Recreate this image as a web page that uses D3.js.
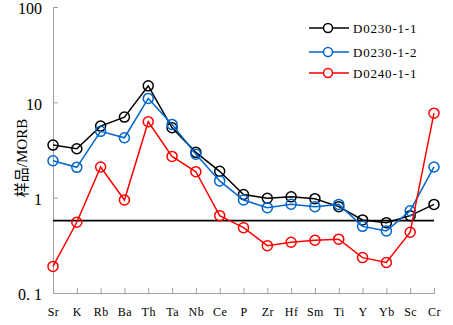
<!DOCTYPE html>
<html>
<head>
<meta charset="utf-8">
<script src="https://cdn.jsdelivr.net/npm/d3@7"></script>
<style>
  body { margin: 0; background: #fff; }
  svg text { font-family: "Liberation Serif", "DejaVu Serif", "Noto Sans CJK SC", serif; }
</style>
</head>
<body>
<svg id="chart" width="453" height="325"></svg>
<script>
// element order along the x axis
const elements = ["Sr", "K", "Rb", "Ba", "Th", "Ta", "Nb", "Ce", "P", "Zr", "Hf", "Sm", "Ti", "Y", "Yb", "Sc", "Cr"];

// sample / MORB values
const d0230_1_1 = [3.56, 3.26, 5.63, 7.0, 14.9, 5.41, 2.99, 1.89, 1.08, 0.985, 1.02, 0.976, 0.805, 0.584, 0.547, 0.648, 0.85];
const d0230_1_2 = [2.44, 2.08, 4.96, 4.25, 11.0, 5.87, 2.85, 1.50, 0.946, 0.786, 0.852, 0.805, 0.85, 0.50, 0.448, 0.73, 2.10];
const d0240_1_1 = [0.19, 0.552, 2.10, 0.946, 6.25, 2.71, 1.87, 0.648, 0.485, 0.314, 0.341, 0.358, 0.367, 0.235, 0.209, 0.434, 7.7];

const seriesNames = ["D0230-1-1", "D0230-1-2", "D0240-1-1"];
const seriesColors = ["#000000", "#0066cc", "#ff0000"];
const refLine = 0.575;
const yTicks = [0.1, 1, 10, 100];
const yTickLabels = ["0. 1", "1", "10", "100"];

const series = [d0230_1_1, d0230_1_2, d0240_1_1].map((vals, i) => ({
    name: seriesNames[i], color: seriesColors[i],
    points: vals.map((v, j) => ({el: elements[j], v: v}))
}));

let SVG = d3.select("#chart");
let margin = {top: 7, right: 18, bottom: 32, left: 53};
let width = 453 - margin.left - margin.right;
let height = 325 - margin.top - margin.bottom;

let x = d3.scalePoint().domain(elements).range([0, width - 1]);
let y = d3.scaleLog().domain([0.1, 100]).range([height, 0]);

let g = SVG.append("g")
    .attr("transform", "translate(" + margin.left + "," + margin.top + ")");

// axes
let yAxis = g.append("g")
    .call(d3.axisLeft(y).tickValues(yTicks).tickSize(-5).tickPadding(11)
        .tickFormat((d, i) => yTickLabels[i]));
yAxis.select(".domain").attr("stroke", "#a0a0a0");
yAxis.selectAll(".tick line").attr("stroke", "#a0a0a0");
yAxis.selectAll(".tick").filter(d => d === 0.1).select("line").remove();
yAxis.selectAll("text").style("font-size", "16px").attr("fill", "#000").attr("dy", "0.42em");

let xAxis = g.append("g")
    .attr("transform", "translate(0," + height + ")")
    .call(d3.axisBottom(x).tickSize(-5).tickPadding(14));
xAxis.select(".domain").attr("stroke", "#a0a0a0");
xAxis.selectAll(".tick line").attr("stroke", "#a0a0a0");
xAxis.selectAll(".tick").filter((d, i) => i === 0).select("line").remove();
xAxis.selectAll("text").style("font-size", "12px").style("letter-spacing", "0.5px").attr("fill", "#000");

// reference line
g.append("line")
    .attr("x1", 0).attr("x2", width - 1)
    .attr("y1", y(refLine)).attr("y2", y(refLine))
    .attr("stroke", "#000").attr("stroke-width", 1.6);

let line = d3.line().x(d => x(d.el)).y(d => y(d.v));

series.forEach(s => {
    g.append("path")
        .datum(s.points)
        .attr("fill", "none")
        .attr("stroke", s.color)
        .attr("stroke-width", 1.5)
        .attr("d", line);
    g.selectAll(null)
        .data(s.points)
        .enter()
        .append("circle")
        .attr("cx", d => x(d.el))
        .attr("cy", d => y(d.v))
        .attr("r", 5)
        .attr("fill", "none")
        .attr("stroke", s.color)
        .attr("stroke-width", 1.5);
});

// y label
SVG.append("text")
    .attr("transform", "translate(27,158) rotate(-90)")
    .style("text-anchor", "middle")
    .style("font-size", "15px")
    .text("样品/MORB");

// legend
let legend = SVG.append("g").attr("transform", "translate(309,28)");
series.forEach((s, i) => {
    let row = legend.append("g").attr("transform", "translate(0," + [0, 24, 45][i] + ")");
    row.append("line").attr("x1", 0).attr("x2", 40).attr("y1", 0).attr("y2", 0)
        .attr("stroke", s.color).attr("stroke-width", 1.5);
    row.append("circle").attr("cx", 19).attr("cy", 0).attr("r", 4.5)
        .attr("fill", "#fff").attr("stroke", s.color).attr("stroke-width", 1.5);
    row.append("text").attr("x", 44).attr("y", 0).attr("dy", "0.35em")
        .style("font-size", "13px").style("letter-spacing", "0.8px").text(s.name);
});
</script>
</body>
</html>
